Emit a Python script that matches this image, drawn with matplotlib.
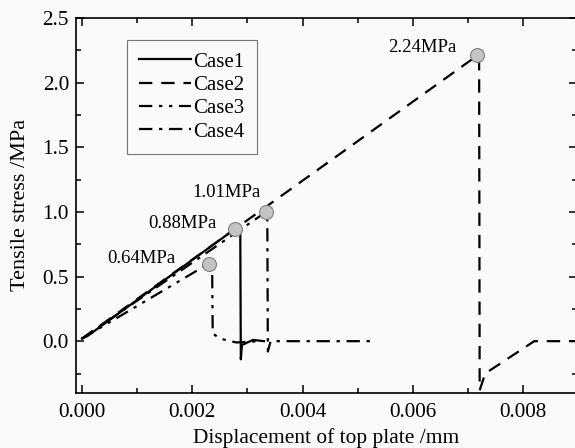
import matplotlib
matplotlib.use("Agg")
import matplotlib.pyplot as plt
from matplotlib.ticker import MultipleLocator

# curves (displacement mm, stress MPa)
case1_x = [0.0, 0.0001, 0.00278, 0.00287, 0.00288, 0.00290, 0.00310, 0.00330]
case1_y = [0.02, 0.04, 0.87, 0.85, -0.14, -0.03, 0.01, 0.00]

case2_x = [0.0, 0.00717, 0.00720, 0.00721, 0.00731, 0.00820, 0.00920]
case2_y = [0.02, 2.21, 2.20, -0.38, -0.25, 0.00, 0.00]

case3_x = [0.0, 0.00230, 0.00236, 0.00237, 0.00250, 0.00280, 0.00320]
case3_y = [0.02, 0.60, 0.57, 0.06, 0.02, -0.01, 0.00]

case4_x = [0.0, 0.00334, 0.00336, 0.00337, 0.00342, 0.00360, 0.00530]
case4_y = [0.02, 1.00, 0.96, -0.08, 0.00, 0.00, 0.00]

peak_x = [0.00278, 0.00717, 0.00230, 0.00334]
peak_y = [0.87, 2.215, 0.60, 1.00]
peak_labels = ["0.88MPa", "2.24MPa", "0.64MPa", "1.01MPa"]
label_x = [0.00245, 0.00679, 0.00169, 0.00325]
label_y = [0.91, 2.27, 0.64, 1.15]

plt.rcParams["font.family"] = ["Liberation Serif", "DejaVu Serif"]

fig = plt.figure(figsize=(5.75, 4.48), dpi=100)
fig.patch.set_facecolor("#fafafa")
ax = fig.add_axes([0.132, 0.123, 0.872, 0.837])
ax.set_facecolor("#fafafa")

lw = 1.6
ax.plot(case1_x, case1_y, color="black", lw=lw, ls="-", label="Case1")
ax.plot(case2_x, case2_y, color="black", lw=lw, ls=(0, (6, 4)), label="Case2")
ax.plot(case3_x, case3_y, color="black", lw=lw,
        ls=(0, (6, 3, 1.5, 3, 1.5, 3)), label="Case3")
ax.plot(case4_x, case4_y, color="black", lw=lw,
        ls=(0, (6, 3, 1.5, 3)), label="Case4")

ax.plot(peak_x, peak_y, "o", ms=10, mfc="#c4c4c4", mec="#808080",
        mew=0.8, zorder=5)
for lx, ly, t in zip(label_x, label_y, peak_labels):
    ax.text(lx, ly, t, ha="right", va="center", fontsize=13.5)

ax.set_xlim(-0.00011, 0.00898)
ax.set_ylim(-0.4, 2.5)
ax.xaxis.set_major_locator(MultipleLocator(0.002))
ax.xaxis.set_minor_locator(MultipleLocator(0.001))
ax.yaxis.set_major_locator(MultipleLocator(0.5))
ax.yaxis.set_minor_locator(MultipleLocator(0.25))
ax.xaxis.set_major_formatter(plt.FormatStrFormatter("%.3f"))
ax.yaxis.set_major_formatter(plt.FormatStrFormatter("%.1f"))

ax.tick_params(which="both", direction="in", top=True, right=True,
               labelsize=15.3, width=1.1)
ax.tick_params(which="major", length=6, pad=5)
ax.tick_params(axis="x", which="major", pad=7)
ax.tick_params(which="minor", length=3.5)
for s in ax.spines.values():
    s.set_linewidth(1.2)

ax.set_xlabel("Displacement of top plate /mm", fontsize=15.4, labelpad=5)
ax.set_ylabel("Tensile stress /MPa", fontsize=16, labelpad=9)

leg = ax.legend(loc="upper left", bbox_to_anchor=(0.101, 0.942), fontsize=15,
                frameon=True, fancybox=False, edgecolor="#555555",
                handlelength=2.5, handletextpad=0.1, labelspacing=0.18,
                borderpad=0.6, borderaxespad=0)
leg.get_frame().set_facecolor("#fafafa")
leg.get_frame().set_linewidth(0.8)

fig.savefig("out.png", dpi=100, facecolor=fig.get_facecolor())
